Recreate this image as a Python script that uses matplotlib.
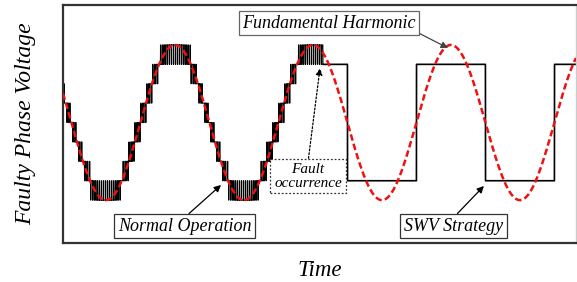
import numpy as np
import matplotlib
matplotlib.use("Agg")
import matplotlib.pyplot as plt

# ---- signal parameters ----
f_fund_hz = 50.0          # fundamental frequency
phase_deg = 158.0         # phase of the fundamental at t = 0
amp_levels = 4.0          # fundamental amplitude (in voltage levels)
n_levels_half = 4         # 9-level converter: -4 ... +4
carrier_hz = 3500.0       # PWM carrier frequency
fault_time_ms = 37.7      # fault instant
swv_level = 3             # square-wave level after the fault
t_end_ms = 74.35          # end of the time window

# ---- annotation texts ----
label_fund = "Fundamental Harmonic"
label_normal = "Normal Operation"
label_swv = "SWV Strategy"
label_fault = "Fault\noccurrence"
xlabel = "Time"
ylabel = "Faulty Phase Voltage"

plt.rcParams['font.family'] = ['Liberation Serif', 'DejaVu Serif']

fig = plt.figure(figsize=(5.77, 2.82), dpi=100)
ax = fig.add_axes([63/577, 1-243/282, 513/577, 238/282])

t = np.linspace(0, t_end_ms, 200001)
w = 2*np.pi*f_fund_hz*t/1000.0 + np.deg2rad(phase_deg)
ref = amp_levels*np.sin(w)

# multilevel PWM (level-shifted carriers) before the fault
tri = 2*np.abs((t/1000.0*carrier_hz) % 1.0 - 0.5)
base = np.floor(ref)
pwm = base + ((ref - base) > tri)
pwm = np.clip(pwm, -n_levels_half, n_levels_half)
m1 = t <= fault_time_ms
ax.plot(t[m1], pwm[m1], color='black', lw=0.8, zorder=2)

# square-wave voltage after the fault
m2 = t >= fault_time_ms
sq = swv_level*np.where(np.sin(w) >= 0, 1, -1)
sq_pre = np.concatenate([[pwm[m1][-1]], sq[m2]])
t_sq = np.concatenate([[fault_time_ms], t[m2]])
ax.plot(t_sq, sq_pre, color='black', lw=1.2, zorder=2)

# fundamental
ax.plot(t, ref, color='#ee1111', lw=1.8, ls=(0, (2.6, 1.3)), zorder=3)

ax.set_xlim(0, t_end_ms)
ax.set_ylim(-6.21, 6.06)
ax.set_xticks([])
ax.set_yticks([])
for s in ['left', 'bottom', 'top']:
    ax.spines[s].set_color('#333333')
    ax.spines[s].set_linewidth(1.6)
ax.spines['right'].set_color('#cccccc')
ax.spines['right'].set_linewidth(1.0)

ax.set_xlabel(xlabel, fontsize=16.5, style='italic', labelpad=12)
ax.set_ylabel(ylabel, fontsize=17, style='italic', labelpad=19)

box = dict(boxstyle='square,pad=0.2', fc='white', ec='#333333', lw=0.9)
arrow = dict(arrowstyle='-|>', color='black', lw=0.9, mutation_scale=10,
             shrinkA=0, shrinkB=0)

ax.annotate(label_fund, xy=(55.8, 3.84), xytext=(38.55, 5.13),
            fontsize=13, style='italic', ha='center', va='center',
            bbox=dict(boxstyle='square,pad=0.2', fc='white', ec='#666666', lw=0.9),
            arrowprops=dict(arrowstyle='-|>', color='#444444', lw=0.9,
                            mutation_scale=10, shrinkA=0, shrinkB=0,
                            relpos=(1.0, 0.0)), zorder=5)
ax.annotate(label_normal, xy=(22.9, -3.22), xytext=(17.6, -5.34),
            fontsize=13, style='italic', ha='center', va='center',
            bbox=box, arrowprops=dict(arrow, relpos=(0.5, 1.0)), zorder=5)
ax.annotate(label_swv, xy=(61.0, -3.27), xytext=(56.6, -5.34),
            fontsize=13, style='italic', ha='center', va='center',
            bbox=box, arrowprops=dict(arrow, relpos=(0.5, 1.0)), zorder=5)
ax.annotate(label_fault, xy=(37.25, 2.81), xytext=(35.5, -2.76),
            fontsize=11, style='italic', ha='center', va='center',
            linespacing=1.1,
            bbox=dict(boxstyle='square,pad=0.25', fc='white', ec='#333333',
                      lw=0.9, ls=(0, (1.5, 1.5))),
            arrowprops=dict(arrowstyle='-|>', color='black', lw=0.9,
                            ls=(0, (1.5, 1.5)), mutation_scale=10,
                            shrinkA=0, shrinkB=0, relpos=(0.5, 1.0)),
            zorder=5)

fig.savefig('out.png', dpi=100)
